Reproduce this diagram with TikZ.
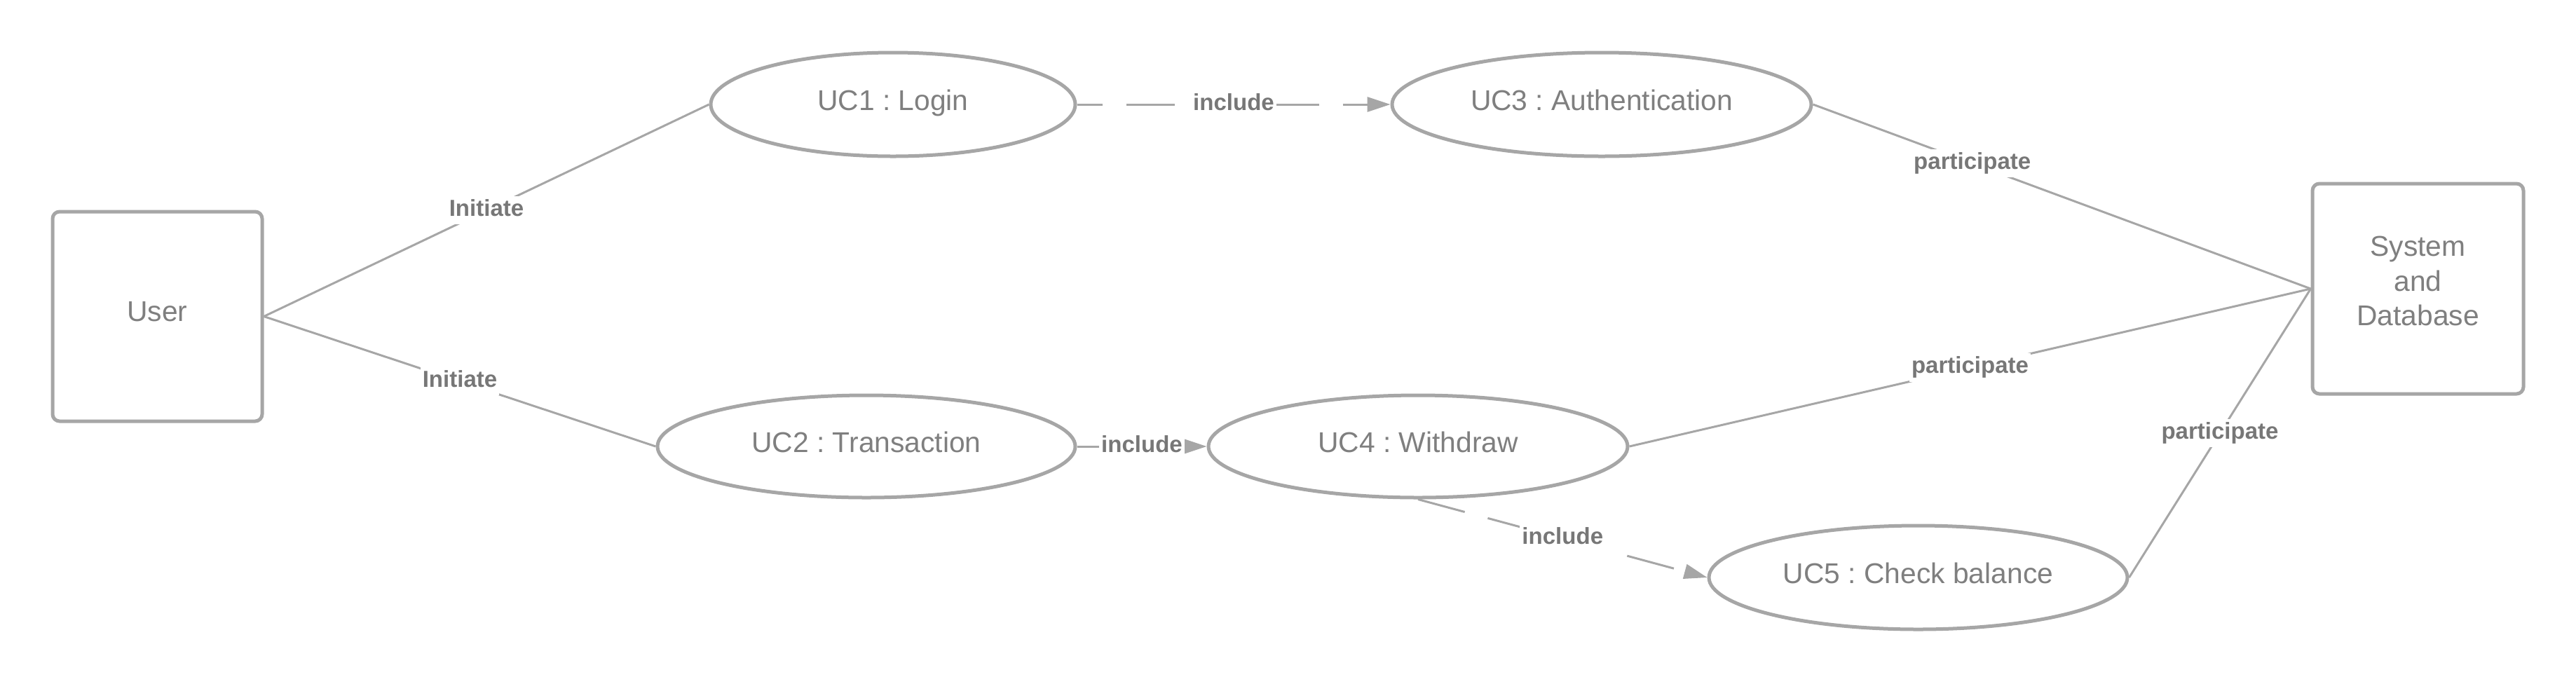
\documentclass[tikz,border=0pt]{standalone}
\usepackage{fontspec}
\setmainfont{Liberation Sans}
\usetikzlibrary{shapes.geometric,arrows.meta}
\definecolor{edgegray}{HTML}{A6A6A6}
\definecolor{txtgray}{HTML}{7F7F7F}
\definecolor{lblgray}{HTML}{777777}
\begin{document}
\frenchspacing
\begin{tikzpicture}[
  x=1cm,y=1cm,
  usecase/.style={ellipse, draw=edgegray, line width=0.05cm, fill=white, inner sep=0pt,
    font=\fontsize{11.6}{14.2}\selectfont, text=txtgray, text height=0.72em, text depth=0.26em},
  actorbox/.style={rectangle, rounded corners=0.1cm, draw=edgegray, line width=0.05cm, fill=white,
    inner sep=0pt, font=\fontsize{11.6}{14.2}\selectfont, text=txtgray},
  boxtext/.style={inner sep=0pt, font=\fontsize{11.6}{14.2}\selectfont, text=txtgray, align=center},
  conn/.style={draw=edgegray, line width=0.03cm},
  incl/.style={conn, dash pattern=on 0.69cm off 0.34cm, -{Triangle[length=0.33cm,width=0.21cm]}},
  lbl/.style={fill=white, inner sep=0.03cm, font=\bfseries\fontsize{9.4}{11}\selectfont,
    text=lblgray, text height=0.72em, text depth=0.26em}
]
\useasboundingbox (0,0) rectangle (36.75,-9.75);

% actors
\node[actorbox, minimum width=2.99cm, minimum height=2.99cm, text height=0.72em, text depth=0.32em] (user) at (2.245,-4.515) {User};
\node[actorbox, minimum width=3.01cm, minimum height=3.0cm] (sys) at (34.495,-4.12) {};
\node[boxtext] (systxt) at ([yshift=0.11cm]sys.center) {System\\and\\Database};

% use cases
\node[usecase, minimum width=5.20cm, minimum height=1.48cm] (uc1) at (12.74,-1.49) {UC1 : Login};
\node[usecase, minimum width=5.96cm, minimum height=1.46cm] (uc2) at (12.36,-6.37) {UC2 : Transaction};
\node[usecase, minimum width=5.98cm, minimum height=1.48cm] (uc3) at (22.85,-1.49) {UC3 : Authentication};
\node[usecase, minimum width=5.98cm, minimum height=1.46cm] (uc4) at (20.23,-6.37) {UC4 : Withdraw};
\node[usecase, minimum width=5.97cm, minimum height=1.48cm] (uc5) at (27.365,-8.24) {UC5 : Check balance};

% initiate
\draw[conn] (user.east) -- node[lbl, pos=0.5] (l1) {Initiate} (uc1.west);
\draw[conn] (user.east) -- node[lbl, pos=0.5] (l2) {Initiate} (uc2.west);

% include
\draw[incl, dash phase=0.33cm] (uc1.east) -- node[lbl, pos=0.5] (l3) {include} (uc3.west);
\draw[incl] (uc2.east) -- node[lbl, pos=0.5] (l4) {include} (uc4.west);
\draw[incl] (uc4.south) -- node[lbl, pos=0.5] (l5) {include} (uc5.west);

% participate
\draw[conn] (uc3.east) -- node[lbl, pos=0.32] (l6) {participate} (sys.west);
\draw[conn] (uc4.east) -- node[lbl, pos=0.5] (l7) {participate} (sys.west);
\draw[conn] (uc5.east) -- node[lbl, pos=0.5] (l8) {participate} (sys.west);
\end{tikzpicture}
\end{document}
